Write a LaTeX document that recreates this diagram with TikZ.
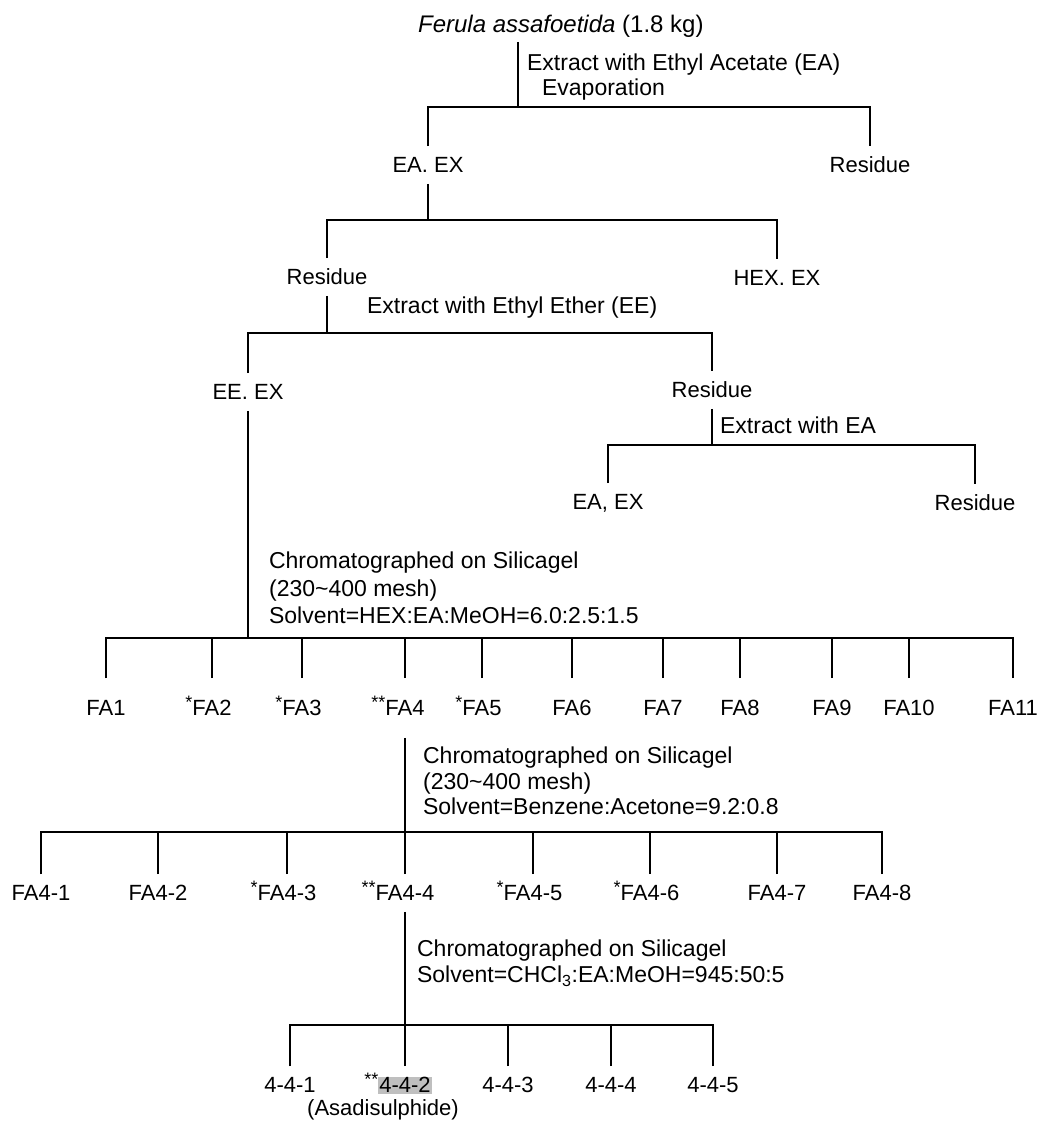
\documentclass[tikz,border=0pt]{standalone}
\usepackage{fontspec}
\setmainfont{Liberation Sans}

\newcommand{\starmark}[1]{\llap{\raisebox{7pt}{\fontsize{18}{18}\selectfont #1}}}
\setlength{\fboxsep}{1pt}

\tikzset{
    leaf/.style={font=\fontsize{22}{26}\selectfont, text height=15.75pt, text depth=0pt, inner xsep=2pt, inner ysep=10pt},
    leafwide/.style={leaf, inner ysep=21pt},
    note/.style={font=\fontsize{23}{27.5}\selectfont, anchor=west, align=left, inner sep=0pt},
}

\begin{document}
\begin{tikzpicture}[x=1pt, y=-1pt, line width=2.2pt]
    \useasboundingbox (0,0) rectangle (1037,1126);

    % Starting material and first extraction
    \node[note, font=\fontsize{24}{28}\selectfont] (ferula) at (417,26) {\textit{Ferula assafoetida} (1.8 kg)};
    \coordinate (stem1) at (518,42);
    \coordinate (bar1) at (518,107);
    \node[note] (step1a) at (526,65) {Extract with Ethyl Acetate (EA)};
    \node[note] (step1b) at (541,90) {Evaporation};
    \node[leaf] (eaex) at (428,165) {EA. EX};
    \node[leaf] (res1) at (870,165) {Residue};
    \draw (stem1) -- (bar1);
    \draw (eaex.north) -- (eaex.north |- bar1) -- (res1.north |- bar1) -- (res1.north);

    % Second split
    \coordinate (bar2) at (428,220);
    \node[leaf] (res2) at (327,277) {Residue};
    \node[leaf] (hexex) at (777,278) {HEX. EX};
    \draw (eaex.south) -- (bar2);
    \draw (res2.north) -- (res2.north |- bar2) -- (hexex.north |- bar2) -- (hexex.north);

    % Extract with ethyl ether
    \coordinate (bar3) at (327,333);
    \node[note] (step3) at (366,308) {Extract with Ethyl Ether (EE)};
    \node[leaf] (eeex) at (248,392) {EE. EX};
    \node[leaf] (res3) at (712,390) {Residue};
    \draw (res2.south) -- (bar3);
    \draw (eeex.north) -- (eeex.north |- bar3) -- (res3.north |- bar3) -- (res3.north);

    % Extract with EA
    \coordinate (bar4) at (712,445);
    \node[note] (step4) at (719,425) {Extract with EA};
    \node[leaf] (eaex2) at (608,502) {EA, EX};
    \node[leaf] (res4) at (975,503) {Residue};
    \draw (res3.south) -- (bar4);
    \draw (eaex2.north) -- (eaex2.north |- bar4) -- (res4.north |- bar4) -- (res4.north);

    % First column: fractions FA1 ... FA11
    \coordinate (bar5) at (248,638);
    \node[note] (chrom1) at (268,588) {Chromatographed on Silicagel\\(230\textasciitilde400 mesh)\\Solvent=HEX:EA:MeOH=6.0:2.5:1.5};
    \draw (eeex.south) -- (bar5);
    \foreach \xx/\nm/\txt in {106/fa1/FA1, 212/fa2/{\starmark{*}FA2}, 302/fa3/{\starmark{*}FA3},
        405/fa4/{\starmark{**}FA4}, 482/fa5/{\starmark{*}FA5}, 572/fa6/FA6, 663/fa7/FA7,
        740/fa8/FA8, 832/fa9/FA9, 909/fa10/FA10, 1013/fa11/FA11} {
        \node[leafwide] (\nm) at (\xx,708) {\txt};
        \draw (\nm.north) -- (\nm.north |- bar5);
    }
    \draw (fa1.north) -- (fa1.north |- bar5) -- (fa11.north |- bar5) -- (fa11.north);

    % Second column: FA4 fractions
    \coordinate (bar6) at (405,832);
    \node[note, font=\fontsize{23}{25.5}\selectfont] (chrom2) at (422,781) {Chromatographed on Silicagel\\(230\textasciitilde400 mesh)\\Solvent=Benzene:Acetone=9.2:0.8};
    \draw (fa4.south) -- (bar6);
    \foreach \xx/\nm/\txt in {41/fa41/FA4-1, 158/fa42/FA4-2, 287/fa43/{\starmark{*}FA4-3},
        405/fa44/{\starmark{**}FA4-4}, 533/fa45/{\starmark{*}FA4-5}, 650/fa46/{\starmark{*}FA4-6},
        777/fa47/FA4-7, 882/fa48/FA4-8} {
        \node[leaf] (\nm) at (\xx,893) {\txt};
        \draw (\nm.north) -- (\nm.north |- bar6);
    }
    \draw (fa41.north) -- (fa41.north |- bar6) -- (fa48.north |- bar6) -- (fa48.north);

    % Third column: FA4-4 fractions
    \coordinate (bar7) at (405,1025);
    \node[note, font=\fontsize{23}{26}\selectfont] (chrom3) at (416,963) {Chromatographed on Silicagel\\Solvent=CHCl\textsubscript{3}:EA:MeOH=945:50:5};
    \draw (fa44.south) -- (bar7);
    \foreach \xx/\nm/\txt in {290/f441/4-4-1, 405/f442/{\starmark{**}\colorbox{black!25}{4-4-2}},
        508/f443/4-4-3, 611/f444/4-4-4, 713/f445/4-4-5} {
        \node[leaf] (\nm) at (\xx,1085) {\txt};
        \draw (\nm.north) -- (\nm.north |- bar7);
    }
    \draw (f441.north) -- (f441.north |- bar7) -- (f445.north |- bar7) -- (f445.north);
    \node[leaf, inner ysep=0pt] (asad) at (383,1108) {(Asadisulphide)};

\end{tikzpicture}
\end{document}
